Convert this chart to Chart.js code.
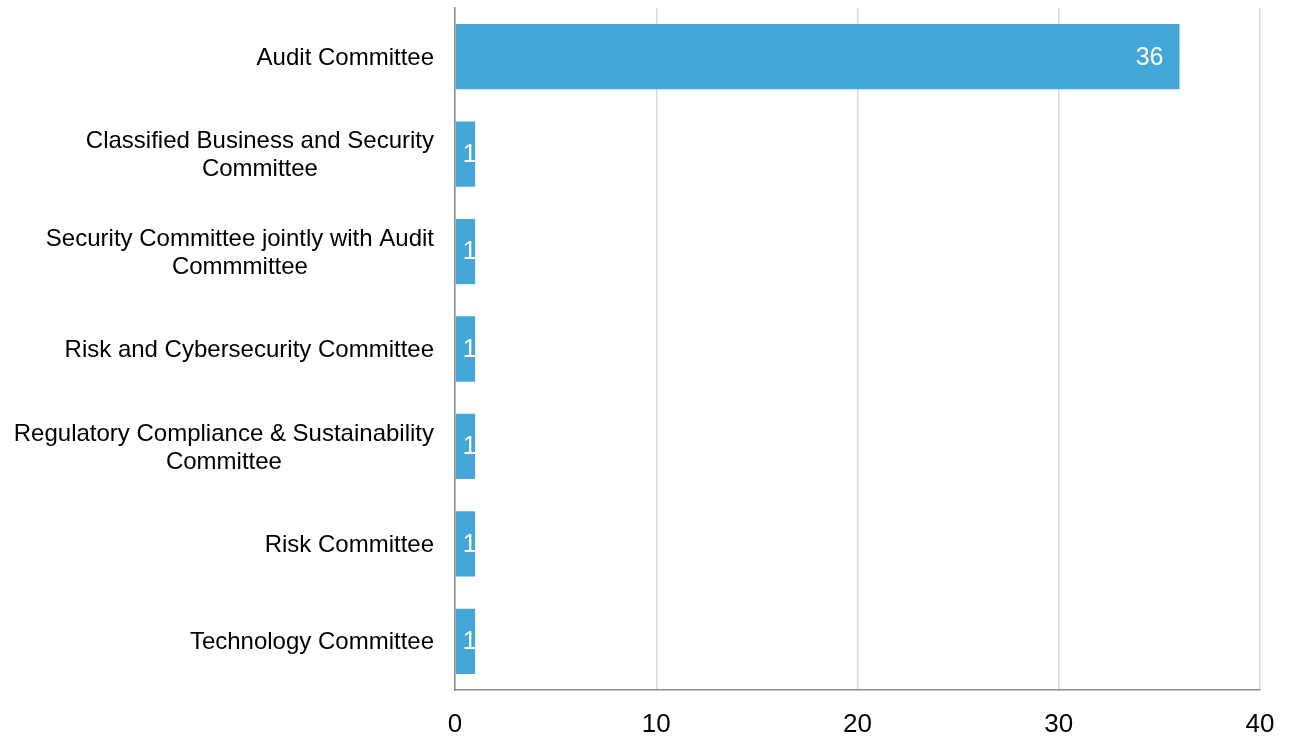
<!DOCTYPE html>
<html>
<head>
<meta charset="utf-8">
<script src="https://cdn.jsdelivr.net/npm/chart.js@4"></script>
<style>
  html, body { margin: 0; padding: 0; background: #fff; }
  #wrap { width: 1298px; height: 737px; }
</style>
</head>
<body>
<div id="wrap"><canvas id="chart"></canvas></div>
<script>
// chart data
const categories = [
  ["Audit Committee"],
  ["Classified Business and Security", "Committee"],
  ["Security Committee jointly with Audit", "Commmittee"],
  ["Risk and Cybersecurity Committee"],
  ["Regulatory Compliance & Sustainability", "Committee"],
  ["Risk Committee"],
  ["Technology Committee"]
];
const counts = [36, 1, 1, 1, 1, 1, 1];
const xTicks = [0, 10, 20, 30, 40];

const FONT = "'Liberation Sans', Arial, sans-serif";

// category labels: block right aligned, lines centered inside the block
const catLabels = {
  id: "catLabels",
  afterDraw(chart) {
    const ctx = chart.ctx;
    const y = chart.scales.y;
    const right = chart.chartArea.left - 21;
    ctx.save();
    ctx.font = "24px " + FONT;
    ctx.fillStyle = "#000";
    ctx.textAlign = "center";
    ctx.textBaseline = "middle";
    categories.forEach((lines, i) => {
      const w = Math.max(...lines.map(l => ctx.measureText(l).width));
      const cx = right - w / 2;
      const cy = y.getPixelForValue(i) + 1.5;
      const lh = 28;
      lines.forEach((l, j) => {
        ctx.fillText(l, cx, cy + (j - (lines.length - 1) / 2) * lh);
      });
    });
    ctx.restore();
  }
};

// value labels inside bar end
const valueLabels = {
  id: "valueLabels",
  afterDatasetsDraw(chart) {
    const ctx = chart.ctx;
    const meta = chart.getDatasetMeta(0);
    ctx.save();
    ctx.font = "25px " + FONT;
    ctx.fillStyle = "#fff";
    ctx.textBaseline = "middle";
    meta.data.forEach((bar, i) => {
      const txt = String(counts[i]);
      const w = ctx.measureText(txt).width;
      const len = bar.x - bar.base;
      if (len > w + 24) {
        ctx.textAlign = "right";
        ctx.fillText(txt, bar.x - 16, bar.y + 1);
      } else {
        ctx.textAlign = "left";
        ctx.fillText(txt, bar.base + 7, bar.y + 1);
      }
    });
    ctx.restore();
  }
};

new Chart(document.getElementById("chart"), {
  type: "bar",
  data: {
    labels: categories.map(c => c.join(" ")),
    datasets: [{
      data: counts,
      backgroundColor: "#45a6d8",
      borderWidth: 0,
      barPercentage: 0.67,
      categoryPercentage: 1
    }]
  },
  options: {
    indexAxis: "y",
    responsive: true,
    maintainAspectRatio: false,
    animation: false,
    layout: { padding: { top: 8, right: 38, left: 0, bottom: 0 } },
    plugins: {
      legend: { display: false },
      tooltip: { enabled: false }
    },
    scales: {
      x: {
        min: 0,
        max: 40,
        afterBuildTicks(axis) { axis.ticks = xTicks.map(v => ({ value: v })); },
        afterFit(axis) { axis.height = 47; },
        grid: { color: "#d9d9d9", lineWidth: 1.5, drawTicks: false },
        border: { color: "#8c8c8c", width: 1.5 },
        ticks: {
          padding: 19,
          color: "#000",
          font: { family: FONT, size: 26 }
        }
      },
      y: {
        afterFit(axis) { axis.width = 455; },
        grid: { display: false, drawTicks: false },
        border: { color: "#8c8c8c", width: 1.5 },
        ticks: { display: false }
      }
    }
  },
  plugins: [catLabels, valueLabels]
});
</script>
</body>
</html>
